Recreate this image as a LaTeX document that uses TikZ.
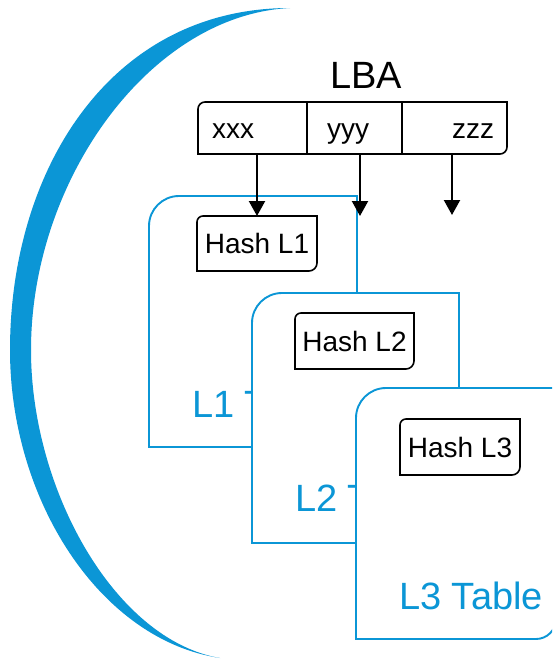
\documentclass[tikz,border=0pt]{standalone}
\usepackage{fontspec}
\setmainfont{Liberation Sans}
\usetikzlibrary{arrows.meta,calc}
\definecolor{lbablue}{RGB}{11,150,214}
\tikzset{
  tablebox/.style={draw=lbablue, line width=1.9pt, fill=white},
  hashbox/.style={draw=black, line width=1.6pt},
  shapebox/.style={inner sep=0pt, outer sep=0pt},
  tablelabel/.style={text=lbablue, font=\fontsize{38pt}{44pt}\selectfont, anchor=base west, inner sep=0pt},
  hashlabel/.style={shapebox, font=\fontsize{28pt}{32pt}\selectfont},
  celllabel/.style={font=\fontsize{28pt}{32pt}\selectfont, anchor=base west, inner sep=0pt},
  arr/.style={line width=2.1pt, -{Triangle[width=16pt,length=15pt]}},
}
\newcommand{\tablepath}[1]{\draw[tablebox] (#1.south west) -- ([yshift=-30pt]#1.north west) arc[start angle=180,end angle=90,radius=30pt] -- (#1.north east) -- (#1.south east) -- cycle;}
\newcommand{\hashpath}[1]{\draw[hashbox] (#1.south west) -- ([yshift=-6pt]#1.north west) arc[start angle=180,end angle=90,radius=6pt] -- (#1.north east) -- ([yshift=8pt]#1.south east) arc[start angle=0,end angle=-90,radius=8pt] -- cycle;}
\begin{document}
\begin{tikzpicture}[x=1pt,y=1pt]
\useasboundingbox (0,0) rectangle (552,-659);
\clip (0,0) rectangle (552,-659);
% crescent
\fill[lbablue] (290,-8) .. controls (110,-8) and (10,-170) .. (10,-350)
  .. controls (10,-500) and (100,-640) .. (220,-658)
  .. controls (115,-640) and (31,-490) .. (31,-350)
  .. controls (31,-180) and (150,-15) .. (290,-8) -- cycle;
% L1 table
\node[shapebox, minimum width=208pt, minimum height=251pt] (t1) at (253,-321.5) {};
\tablepath{t1}
\node[tablelabel] (l1) at (192,-417) {L1 Table};
\node[hashlabel, minimum width=120pt, minimum height=55pt] (h1) at (257,-243.5) {Hash L1};
\hashpath{h1}
% L2 table
\node[shapebox, minimum width=207pt, minimum height=250pt] (t2) at (355.5,-418) {};
\tablepath{t2}
\node[tablelabel] (l2) at (295,-511) {L2 Table};
\node[hashlabel, minimum width=119pt, minimum height=56pt] (h2) at (354.5,-341) {Hash L2};
\hashpath{h2}
% L3 table
\node[shapebox, minimum width=200pt, minimum height=251pt] (t3) at (456,-513.5) {};
\draw[tablebox] (t3.south west) -- ([yshift=-30pt]t3.north west) arc[start angle=180,end angle=90,radius=30pt] -- (t3.north east) -- ([yshift=20pt]t3.south east) arc[start angle=0,end angle=-90,radius=20pt] -- cycle;
\node[tablelabel] (l3) at (399,-609) {L3 Table};
\node[hashlabel, minimum width=120pt, minimum height=56pt] (h3) at (460,-447) {Hash L3};
\hashpath{h3}
% LBA
\node[font=\fontsize{38pt}{44pt}\selectfont, anchor=base, inner sep=0pt] (lbat) at (366,-88) {LBA};
\node[shapebox, minimum width=109pt, minimum height=52pt] (c1) at (252.5,-128) {};
\node[shapebox, minimum width=95pt, minimum height=52pt] (c2) at (354.5,-128) {};
\node[shapebox, minimum width=105pt, minimum height=52pt] (c3) at (454.5,-128) {};
\draw[hashbox, fill=white] (c1.south west) -- ([yshift=-7pt]c1.north west) arc[start angle=180,end angle=90,radius=7pt] -- (c3.north east) -- ([yshift=7pt]c3.south east) arc[start angle=0,end angle=-90,radius=7pt] -- cycle;
\draw[hashbox] (c1.north east) -- (c1.south east);
\draw[hashbox] (c2.north east) -- (c2.south east);
\node[celllabel] (x1) at (212,-138) {xxx};
\node[celllabel] (x2) at (327,-138) {yyy};
\node[celllabel] (x3) at (452,-138) {zzz};
% arrows
\coordinate (a2) at (360,-216);
\coordinate (a3) at (452,-215);
\draw[arr] (c1.south -| h1.north) -- (h1.north);
\draw[arr] (c2.south -| a2) -- (a2);
\draw[arr] (c3.south -| a3) -- (a3);
\end{tikzpicture}
\end{document}
